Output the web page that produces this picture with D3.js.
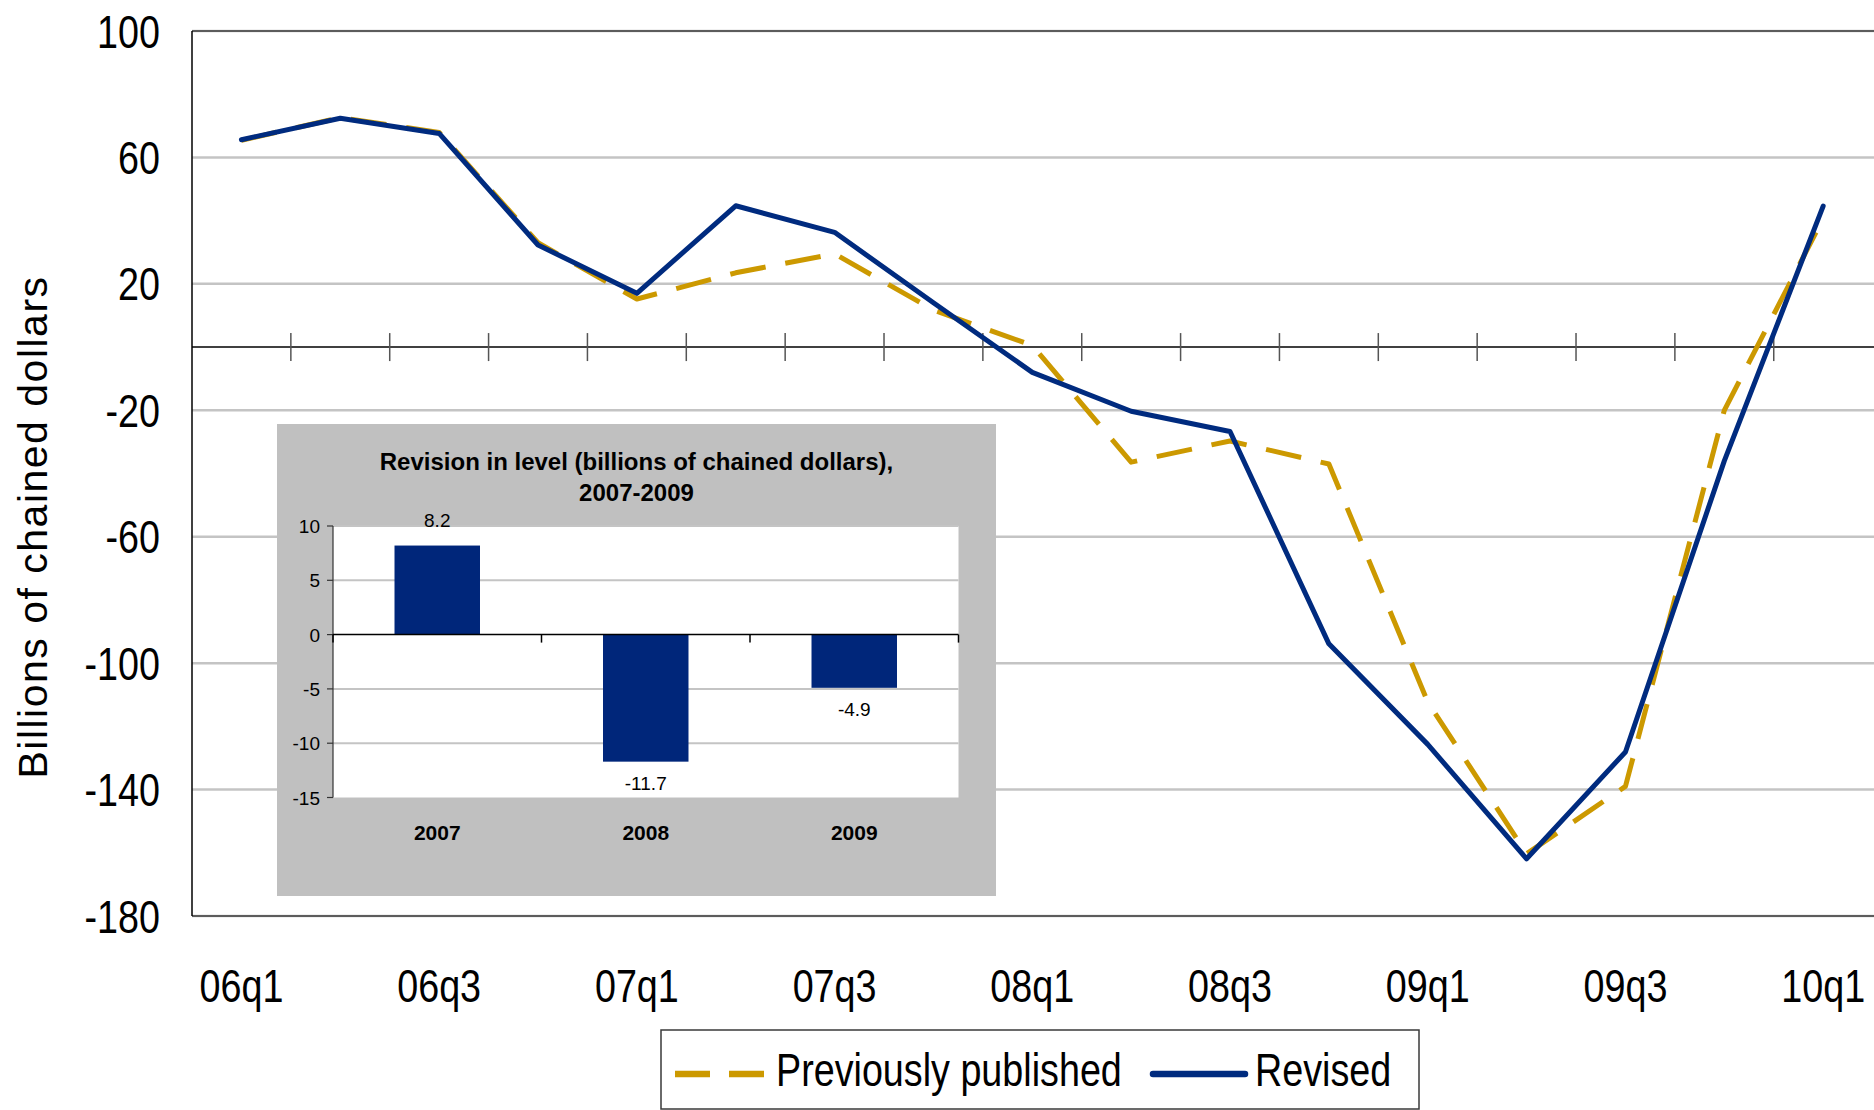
<!DOCTYPE html>
<html>
<head>
<meta charset="utf-8">
<script src="https://cdn.jsdelivr.net/npm/d3@7"></script>
<style>
  html, body { margin: 0; padding: 0; background: #ffffff; }
  svg { display: block; }
</style>
</head>
<body>
<svg id="chart" width="1874" height="1110"></svg>
<script>
// ---------- data ----------
const quarters = ["06q1","06q2","06q3","06q4","07q1","07q2","07q3","07q4",
                  "08q1","08q2","08q3","08q4","09q1","09q2","09q3","09q4","10q1"];
const previouslyPublished = [65.4, 72.6, 67.9, 33.0, 15.2, 23.5, 29.5, 11.7,
                             0.5, -36.4, -29.7, -37.0, -112.3, -160.3, -139.0, -20.0, 40.7];
const revised = [65.6, 72.4, 67.6, 32.3, 17.0, 44.7, 36.3, 14.0,
                 -8.0, -20.3, -26.7, -93.9, -125.7, -161.9, -128.1, -36.0, 44.6];
const yTicks = [100, 60, 20, -20, -60, -100, -140, -180];
const xLabels = ["06q1","06q3","07q1","07q3","08q1","08q3","09q1","09q3","10q1"];
const seriesNames = ["Previously published", "Revised"];

const insetYears = ["2007", "2008", "2009"];
const insetRevisions = [8.2, -11.7, -4.9];
const insetTicks = [10, 5, 0, -5, -10, -15];
const insetTitle = ["Revision in level (billions of chained dollars),", "2007-2009"];

// ---------- styles ----------
const GOLD = "#CC9900";
const NAVY = "#002B7F";
const BAR = "#00267A";
const GRID = "#C4C4C4";
const SANS = "'Liberation Sans', Arial, sans-serif";
const NARROW_SCALE = 0.82;   // Arial Narrow look, from Liberation Sans

const svg = d3.select("#chart");

// helper: condensed text placed at (px, py)
function narrowText(sel, px, py) {
  return sel.attr("x", 0).attr("y", 0)
    .attr("transform", (d, i) => `translate(${typeof px === "function" ? px(d, i) : px},${typeof py === "function" ? py(d, i) : py}) scale(${NARROW_SCALE},1)`)
    .attr("font-family", SANS).attr("font-size", 46).attr("fill", "#000");
}

// ---------- main scales ----------
const plotL = 192, plotR = 1872.6, plotT = 31, plotB = 916;
const x = d3.scaleBand().domain(quarters).range([plotL, plotR]).paddingInner(0).paddingOuter(0);
const y = d3.scaleLinear().domain([-180, 100]).range([plotB, plotT]);
const cx = q => x(q) + x.bandwidth() / 2;

// gridlines
svg.append("g").selectAll("line").data(yTicks).join("line")
  .attr("x1", plotL).attr("x2", 1874)
  .attr("y1", d => y(d)).attr("y2", d => y(d))
  .attr("stroke", GRID).attr("stroke-width", 2.5);

// plot border (top / bottom)
svg.append("line").attr("x1", plotL).attr("x2", 1874).attr("y1", y(100)).attr("y2", y(100))
  .attr("stroke", "#3a3a3a").attr("stroke-width", 1.5);
svg.append("line").attr("x1", plotL).attr("x2", 1874).attr("y1", y(-180)).attr("y2", y(-180))
  .attr("stroke", "#3a3a3a").attr("stroke-width", 1.5);

// left value axis line
svg.append("line").attr("x1", plotL).attr("x2", plotL).attr("y1", plotT).attr("y2", plotB)
  .attr("stroke", "#000").attr("stroke-width", 1.5);

// y tick labels
svg.append("g").selectAll("text").data(yTicks).join("text")
  .call(s => narrowText(s, 160, d => y(d) + 16.5))
  .attr("text-anchor", "end")
  .text(d => d);

// y axis title
svg.append("text")
  .attr("transform", "translate(47,527) rotate(-90)")
  .attr("text-anchor", "middle")
  .attr("font-family", SANS).attr("font-size", 41).attr("fill", "#000")
  .attr("letter-spacing", 1.5)
  .text("Billions of chained dollars");

// zero (category) axis
svg.append("line").attr("x1", plotL).attr("x2", 1874).attr("y1", y(0)).attr("y2", y(0))
  .attr("stroke", "#000").attr("stroke-width", 1.5);
const boundaries = quarters.slice(1).map(q => x(q));
svg.append("g").selectAll("line").data(boundaries).join("line")
  .attr("x1", d => d).attr("x2", d => d)
  .attr("y1", y(0) - 14).attr("y2", y(0) + 14)
  .attr("stroke", "#555").attr("stroke-width", 1.5);

// x labels
svg.append("g").selectAll("text").data(xLabels).join("text")
  .call(s => narrowText(s, d => cx(d), 1002))
  .attr("text-anchor", "middle")
  .text(d => d);

// ---------- lines ----------
const line = d3.line().x((d, i) => cx(quarters[i])).y(d => y(d));
svg.append("path").datum(previouslyPublished).attr("d", line)
  .attr("fill", "none").attr("stroke", GOLD).attr("stroke-width", 5)
  .attr("stroke-dasharray", "36,20").attr("stroke-linejoin", "round");
svg.append("path").datum(revised).attr("d", line)
  .attr("fill", "none").attr("stroke", NAVY).attr("stroke-width", 5)
  .attr("stroke-linejoin", "round").attr("stroke-linecap", "round");

// ---------- inset ----------
const inset = svg.append("g");
inset.append("rect").attr("x", 277).attr("y", 424).attr("width", 719).attr("height", 472)
  .attr("fill", "#C0C0C0");
const ix = d3.scaleBand().domain(insetYears).range([333, 958.5]);
const iy = d3.scaleLinear().domain([-15, 10]).range([797.5, 526]);
inset.append("rect").attr("x", 333).attr("y", iy(10)).attr("width", 958.5 - 333).attr("height", iy(-15) - iy(10))
  .attr("fill", "#fff");
inset.append("g").selectAll("line").data(insetTicks.filter(d => d !== 0 && d !== -15)).join("line")
  .attr("x1", 333).attr("x2", 958.5).attr("y1", d => iy(d)).attr("y2", d => iy(d))
  .attr("stroke", GRID).attr("stroke-width", 2);
// bars
const barW = ix.bandwidth() * 0.41;
inset.append("g").selectAll("rect").data(insetRevisions).join("rect")
  .attr("x", (d, i) => ix(insetYears[i]) + ix.bandwidth() / 2 - barW / 2)
  .attr("y", d => iy(Math.max(0, d)))
  .attr("width", barW)
  .attr("height", d => Math.abs(iy(d) - iy(0)))
  .attr("fill", BAR);
// axes
inset.append("line").attr("x1", 333).attr("x2", 333).attr("y1", iy(10)).attr("y2", iy(-15))
  .attr("stroke", "#333").attr("stroke-width", 1.2);
inset.append("g").selectAll("line").data(insetTicks).join("line")
  .attr("x1", 327).attr("x2", 333).attr("y1", d => iy(d)).attr("y2", d => iy(d))
  .attr("stroke", "#333").attr("stroke-width", 1.2);
inset.append("line").attr("x1", 333).attr("x2", 958.5).attr("y1", iy(0)).attr("y2", iy(0))
  .attr("stroke", "#000").attr("stroke-width", 1.5);
const insetBounds = insetYears.map(d => ix(d)).concat([958.5]);
inset.append("g").selectAll("line").data(insetBounds).join("line")
  .attr("x1", d => d).attr("x2", d => d).attr("y1", iy(0)).attr("y2", iy(0) + 8)
  .attr("stroke", "#000").attr("stroke-width", 1.5);
// tick labels
inset.append("g").selectAll("text").data(insetTicks).join("text")
  .attr("x", 320).attr("y", d => iy(d) + 7)
  .attr("text-anchor", "end").attr("font-family", SANS).attr("font-size", 19).attr("fill", "#000")
  .text(d => d);
// category labels
inset.append("g").selectAll("text").data(insetYears).join("text")
  .attr("x", d => ix(d) + ix.bandwidth() / 2).attr("y", 840)
  .attr("text-anchor", "middle").attr("font-family", SANS).attr("font-weight", "bold")
  .attr("font-size", 21).attr("fill", "#000")
  .text(d => d);
// data labels
inset.append("g").selectAll("text").data(insetRevisions).join("text")
  .attr("x", (d, i) => ix(insetYears[i]) + ix.bandwidth() / 2)
  .attr("y", d => d >= 0 ? iy(d) - 19 : iy(d) + 28)
  .attr("text-anchor", "middle").attr("font-family", SANS).attr("font-size", 19).attr("fill", "#000")
  .text(d => d.toFixed(1));
// title
inset.append("g").selectAll("text").data(insetTitle).join("text")
  .attr("x", 636.5).attr("y", (d, i) => 470 + i * 31)
  .attr("text-anchor", "middle").attr("font-family", SANS).attr("font-weight", "bold")
  .attr("font-size", 24).attr("fill", "#000")
  .text(d => d);

// ---------- legend ----------
const lg = svg.append("g");
lg.append("rect").attr("x", 661).attr("y", 1030).attr("width", 758).attr("height", 79)
  .attr("fill", "#fff").attr("stroke", "#3a3a3a").attr("stroke-width", 1.5);
lg.append("line").attr("x1", 675).attr("x2", 765).attr("y1", 1074).attr("y2", 1074)
  .attr("stroke", GOLD).attr("stroke-width", 6.5).attr("stroke-dasharray", "35,19");
lg.append("text").datum(seriesNames[0])
  .call(s => narrowText(s, 776, 1086)).text(d => d);
lg.append("line").attr("x1", 1153).attr("x2", 1245).attr("y1", 1074).attr("y2", 1074)
  .attr("stroke", NAVY).attr("stroke-width", 6.5).attr("stroke-linecap", "round");
lg.append("text").datum(seriesNames[1])
  .call(s => narrowText(s, 1255, 1086)).text(d => d);
</script>
</body>
</html>
